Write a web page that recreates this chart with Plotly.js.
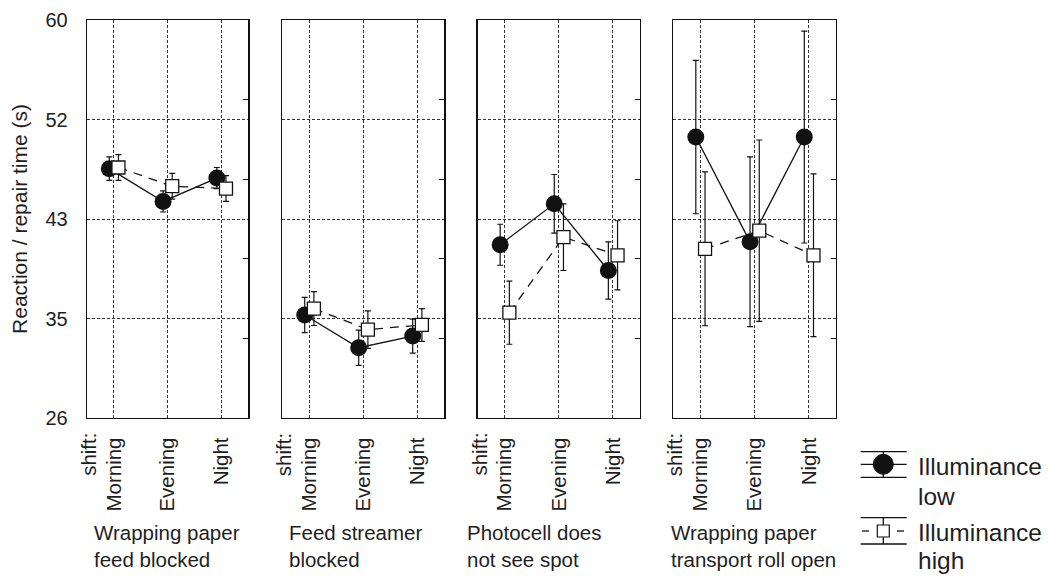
<!DOCTYPE html>
<html>
<head>
<meta charset="utf-8">
<script src="https://cdn.plot.ly/plotly-3.0.1.min.js"></script>
<style>html,body{margin:0;padding:0;background:#fff}#chart{width:1049px;height:576px}</style>
</head>
<body>
<div id="chart"></div>
<script>
// ---- data ----
const categories = ['Morning', 'Evening', 'Night'];
const shiftLabel = 'shift:';
const panelCaptions = [
  'Wrapping paper<br>feed blocked',
  'Feed streamer<br>blocked',
  'Photocell does<br>not see spot',
  'Wrapping paper<br>transport roll open'
];
const seriesNames = ['Illuminance low', 'Illuminance high'];
const legendLines = [['Illuminance', 'low'], ['Illuminance', 'high']];

// Illuminance low: means and error (half-length) per panel
const lowP1 = [47.3, 44.5, 46.5];   const lowP1Err = [1.0, 0.9, 0.9];
const lowP2 = [34.8, 32.0, 33.0];   const lowP2Err = [1.5, 1.5, 1.45];
const lowP3 = [40.8, 44.3, 38.6];   const lowP3Err = [1.75, 2.5, 2.45];
const lowP4 = [50.0, 41.05, 50.0];  const lowP4Err = [6.55, 7.25, 9.05];
// Illuminance high
const highP1 = [47.4, 45.8, 45.6];  const highP1Err = [1.1, 1.1, 1.1];
const highP2 = [35.35, 33.55, 33.95]; const highP2Err = [1.45, 1.6, 1.4];
const highP3 = [35.0, 41.45, 39.9]; const highP3Err = [2.7, 2.85, 2.95];
const highP4 = [40.45, 42.0, 39.9]; const highP4Err = [6.57, 7.75, 6.95];

const yTickVals = [26, 34.5, 43, 51.5, 60];
const yTickText = ['26', '35', '43', '52', '60'];
const rightTickVals = [32.8, 39.6, 46.4, 53.2];
const yTitle = 'Reaction / repair time (s)';

// ---- layout helpers ----
const W = 1049, H = 576, ML = 87, MR = 213, MT = 20, MB = 158;
const PW = W - ML - MR, PH = H - MT - MB;
const px2x = p => (p - ML) / PW;
const px2y = p => (H - MB - p) / PH;
const panelPx = [[87, 248.3], [282.3, 444.3], [477.7, 640], [673.3, 836]];
const captionPx = [92, 287, 465, 669];
const FONT = 'Liberation Sans, Arial, Helvetica, sans-serif';
const TXT = '#1e1e1e';

const lows = [lowP1, lowP2, lowP3, lowP4];
const lowErrs = [lowP1Err, lowP2Err, lowP3Err, lowP4Err];
const highs = [highP1, highP2, highP3, highP4];
const highErrs = [highP1Err, highP2Err, highP3Err, highP4Err];
const catIdx = categories.map((c, i) => i);
const OFF = 0.085;

const traces = [];
const layout = {
  width: W, height: H,
  margin: {l: ML, r: MR, t: MT, b: MB, pad: 0},
  paper_bgcolor: '#fff', plot_bgcolor: '#fff',
  font: {family: FONT, color: TXT, size: 20.5},
  showlegend: false,
  annotations: [], shapes: []
};

for (let k = 0; k < 4; k++) {
  const xs = k === 0 ? '' : String(k + 1);
  const xa = 'x' + xs, ya = 'y' + xs, yr = 'y' + (k + 5);
  // invisible carrier so that the right-hand tick axis is drawn
  traces.push({
    type: 'scatter', mode: 'markers', x: catIdx, y: catIdx.map(() => null),
    xaxis: xa, yaxis: yr, showlegend: false, hoverinfo: 'skip', marker: {opacity: 0}
  });
  traces.push({
    type: 'scatter', mode: 'lines+markers', name: seriesNames[0],
    x: catIdx.map(i => i - OFF), y: lows[k], xaxis: xa, yaxis: ya,
    line: {color: '#111', width: 1.3},
    marker: {symbol: 'circle', size: 17, color: '#111'},
    error_y: {type: 'data', array: lowErrs[k], visible: true, color: '#111', thickness: 1.2, width: 3},
    showlegend: false, hoverinfo: 'skip'
  });
  traces.push({
    type: 'scatter', mode: 'lines+markers', name: seriesNames[1],
    x: catIdx.map(i => i + OFF), y: highs[k], xaxis: xa, yaxis: ya,
    line: {color: '#111', width: 1.3, dash: '9px,7px'},
    marker: {symbol: 'square', size: 13, color: '#fff', line: {color: '#111', width: 1.3}},
    error_y: {type: 'data', array: highErrs[k], visible: true, color: '#111', thickness: 1.2, width: 3},
    showlegend: false, hoverinfo: 'skip'
  });
  const dom = [Math.max(0, px2x(panelPx[k][0])), Math.min(1, px2x(panelPx[k][1]))];
  layout['xaxis' + xs] = {
    domain: dom, anchor: ya, range: [-0.5, 2.5], fixedrange: true,
    tickmode: 'array', tickvals: catIdx, ticktext: categories, tickangle: -90,
    ticks: '', ticklabelstandoff: 10, tickfont: {size: 20.5, color: TXT, family: FONT},
    showgrid: true, gridcolor: '#333', gridwidth: 1, griddash: '3px,2px',
    showline: true, mirror: true, linecolor: '#111', linewidth: 1.3, zeroline: false
  };
  layout['yaxis' + xs] = {
    domain: [0, 1], anchor: xa, range: [26, 60], fixedrange: true,
    tickmode: 'array', tickvals: yTickVals, ticktext: yTickText,
    showticklabels: k === 0, ticks: '', ticklabelstandoff: 14,
    tickfont: {size: 20, color: TXT, family: FONT},
    showgrid: true, gridcolor: '#333', gridwidth: 1, griddash: '3px,2px',
    showline: true, mirror: true, linecolor: '#111', linewidth: 1.3, zeroline: false
  };
  if (k === 0) {
    layout.yaxis.title = {text: yTitle, font: {size: 21, color: TXT, family: FONT}, standoff: 12};
  }
  layout['yaxis' + (k + 5)] = {
    overlaying: ya, anchor: xa, side: 'right', range: [26, 60], fixedrange: true,
    tickmode: 'array', tickvals: rightTickVals, ticks: 'inside', ticklen: 5,
    tickwidth: 1.3, tickcolor: '#111', showticklabels: false,
    showgrid: false, showline: false, zeroline: false
  };
  // "shift:" label
  layout.annotations.push({
    text: shiftLabel, xref: xa, x: -0.475, yref: 'paper', y: 0, yshift: -13,
    xanchor: 'center', yanchor: 'top', textangle: -90, showarrow: false,
    font: {size: 20.5, color: TXT, family: FONT}
  });
  // panel caption
  layout.annotations.push({
    text: panelCaptions[k], xref: 'paper', x: px2x(captionPx[k]), xanchor: 'left', align: 'left',
    yref: 'paper', y: 0, yshift: -101, yanchor: 'top', showarrow: false,
    font: {size: 20.5, color: TXT, family: FONT}
  });
}

// ---- custom legend (error-bar style keys) ----
const lw = {color: '#111', width: 1.3};
function hline(x0, x1, y) {
  layout.shapes.push({type: 'line', xref: 'paper', yref: 'paper', x0: px2x(x0), x1: px2x(x1), y0: px2y(y), y1: px2y(y), line: lw});
}
function vline(x, y0, y1) {
  layout.shapes.push({type: 'line', xref: 'paper', yref: 'paper', x0: px2x(x), x1: px2x(x), y0: px2y(y0), y1: px2y(y1), line: lw});
}
// key 1: low
hline(860.7, 906.7, 451.7); hline(860.7, 906.7, 464.3); hline(860.7, 906.7, 477.3);
vline(883.3, 451.7, 477.3);
layout.shapes.push({type: 'circle', xref: 'paper', yref: 'paper',
  x0: px2x(873.3), x1: px2x(893.3), y0: px2y(474.3), y1: px2y(454.3),
  fillcolor: '#111', line: {color: '#111', width: 1}});
// key 2: high
hline(860.7, 906.7, 517.7); hline(860.7, 906.7, 544);
hline(862, 869, 531); hline(897, 904, 531);
vline(883.3, 517.7, 544);
layout.shapes.push({type: 'rect', xref: 'paper', yref: 'paper',
  x0: px2x(877.3), x1: px2x(889.3), y0: px2y(537), y1: px2y(525),
  fillcolor: '#fff', line: {color: '#111', width: 1.2}});
// legend texts: one annotation per line, placed on measured baselines
const legendTops = [[451, 480.5], [516.5, 545]];
legendLines.forEach((lines, i) => {
  lines.forEach((t, j) => {
    layout.annotations.push({
      text: t, xref: 'paper', x: px2x(916), xanchor: 'left', align: 'left',
      yref: 'paper', y: px2y(legendTops[i][j]), yanchor: 'top', showarrow: false,
      font: {size: 24.5, color: TXT, family: FONT}
    });
  });
});

Plotly.newPlot('chart', traces, layout, {staticPlot: true, displayModeBar: false});
</script>
</body>
</html>
